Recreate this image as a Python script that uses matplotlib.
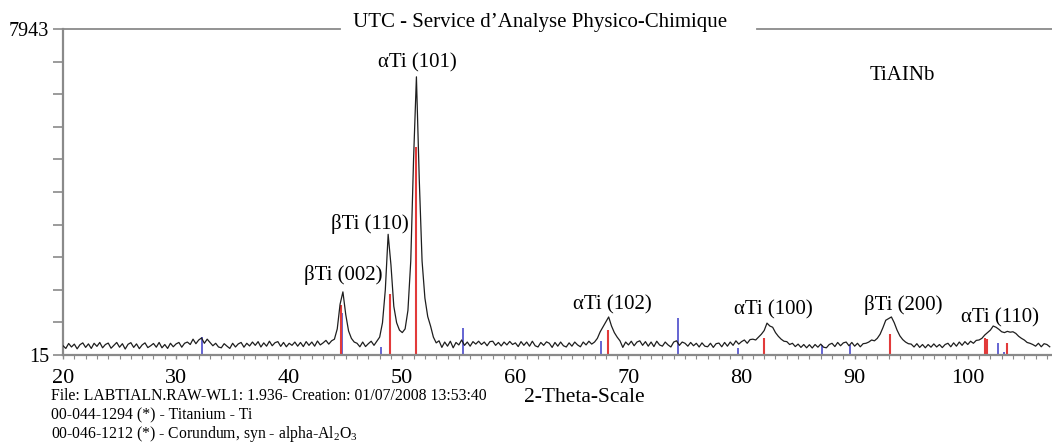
import numpy as np
import matplotlib
matplotlib.use("Agg")
import matplotlib.pyplot as plt
from matplotlib.lines import Line2D

# ---------------- data ----------------
scan_start, scan_step = 20.0, 0.25
intensity = [
    240, 175, 295, 210,  280, 165, 265, 310,  200, 285, 175, 300,  225, 320, 190, 270,   # 20-23
    305, 180, 250, 320,  205, 290, 160, 275,  315, 200, 285, 170,  260, 310, 195, 240,   # 24-27
    295, 205, 320, 190,  270, 175, 300, 215,  285, 320, 205, 300,  330, 270, 400, 290,   # 28-31
    380, 430, 300, 400,  320, 240, 300, 210,  190, 290, 230, 175,  300, 210, 285, 320,   # 32-35
    205, 300, 235, 330,  250, 340, 210, 310,  230, 350, 240, 315,  340, 225, 320, 215,   # 36-39
    300, 250, 330, 230,  320, 220, 340, 250,  330, 230, 355, 260,  310, 370, 280, 360,   # 40-43
    400, 650, 1250, 1550, 1000, 600, 420, 330, 300, 215, 330, 220,  290, 350, 250, 350,  # 44-47
    450, 800, 1600, 2950, 2200, 1200, 800, 620, 560, 650, 1100, 2300,                   # 48-50
    4800, 6780, 4300, 2300, 1400, 950, 720, 450, 310, 360, 200, 330,                     # 51-53
    230, 350, 190, 320,  260, 380, 250, 330,  230, 340, 280, 350,  270, 330, 240, 340,   # 54-57
    350, 250, 320, 235,  330, 260, 345, 270,  310, 220, 340, 250,  330, 230, 350, 240,   # 58-61
    210, 320, 250, 335,  300, 200, 320, 230,  330, 240, 210, 310,  230, 330, 260, 215,   # 62-65
    330, 260, 350, 280,  330, 420, 580, 700,  820, 940, 720, 560,  450, 360, 200, 330,   # 66-69
    260, 350, 240, 330,  360, 250, 340, 230,  330, 220, 350, 260,  230, 330, 260, 210,   # 70-73
    330, 360, 250, 330,  300, 230, 320, 240,  300, 210, 310, 230,  215, 300, 200, 290,   # 74-77
    305, 215, 320, 230,  330, 250, 360, 280,  340, 380, 300, 390,  400, 380, 450, 520,   # 78-81
    610, 790, 720, 690,  560, 470, 400, 350,  340, 270, 300, 220,  280, 200, 270, 190,   # 82-85
    265, 185, 270, 205,  280, 205, 190, 270,  300, 220, 320, 240,  310, 330, 240, 320,   # 86-89
    230, 300, 215, 290,  300, 330, 380, 360,  420, 520, 680, 860,  900, 940, 800, 620,   # 90-93
    480, 390, 330, 290,  280, 210, 290, 200,  270, 190, 270, 205,  285, 210, 270, 195,   # 94-97
    270, 300, 215, 310,  230, 330, 250, 340,  270, 350, 300, 370,  380, 420, 500, 560,   # 98-101
    620, 720, 690, 640,  580, 560, 590, 570,  580, 540, 470, 420,  380, 320, 300, 270,   # 102-105
    230, 300, 215, 290,  270, 215,                                                       # 106-107
]

ti_pos    = [44.6, 48.95, 51.2, 68.2, 82.0, 93.1, 101.55, 101.7, 103.5]
ti_height = [1230, 1500, 5070, 620, 440, 525, 430, 400, 310]

cor_pos    = [32.33, 44.7, 48.15, 55.35, 67.6, 74.4, 79.7, 87.1, 89.6, 102.7, 103.2]
cor_height = [450, 1036, 220, 670, 355, 915, 175, 260, 260, 310, 95]

peak_labels = ["αTi (101)", "βTi (110)", "βTi (002)", "αTi (102)",
               "αTi (100)", "βTi (200)", "αTi (110)"]

y_min, y_max = 15, 7943
x_ticks = [20, 30, 40, 50, 60, 70, 80, 90, 100]

title = "UTC - Service d\u2019Analyse Physico-Chimique"
sample = "TiAINb"
x_label = "2-Theta-Scale"
footer = ["File: LABTIALN.RAW-WL1: 1.936- Creation: 01/07/2008 13:53:40",
          "00-044-1294 (*) - Titanium - Ti",
          "00-046-1212 (*) - Corundum, syn - alpha-Al$_\\mathregular{2}$O$_\\mathregular{3}$"]

# ---------------- plot ----------------
plt.rcParams['font.family'] = ['Liberation Serif', 'DejaVu Serif']
plt.rcParams['mathtext.fontset'] = 'custom'
plt.rcParams['mathtext.rm'] = 'Liberation Serif'

W, H = 1052, 447
fig = plt.figure(figsize=(W / 100, H / 100), dpi=100)
x0, x1, ytop, ybot = 63, 1052, 29, 355
ax = fig.add_axes([x0 / W, 1 - ybot / H, (x1 - x0) / W, (ybot - ytop) / H])

two_theta = scan_start + scan_step * np.arange(len(intensity))

ax.vlines(cor_pos, y_min, cor_height, colors='#6464d2', lw=1.4, zorder=2)
ax.vlines(ti_pos, y_min, ti_height, colors='#e23a3a', lw=1.5, zorder=2)
ax.plot(two_theta, intensity, color='#1e1e1e', lw=0.9, zorder=3)

ax.set_xlim(20, 107.45)
ax.set_ylim(y_min, y_max)

gray = '#8a8a8a'
for s in ['right', 'top']:
    ax.spines[s].set_visible(False)
for s in ['left', 'bottom']:
    ax.spines[s].set_color(gray)
    ax.spines[s].set_linewidth(1.6)

# top frame line broken by the title
for a, b in [(0.0, (340 - x0) / (x1 - x0)), ((757 - x0) / (x1 - x0), 1.0)]:
    ax.add_line(Line2D([a, b], [1, 1], transform=ax.transAxes, color=gray,
                       lw=1.3, clip_on=False))

yt = np.linspace(y_min, y_max, 11)
ax.set_yticks(yt)
ax.set_yticklabels([str(y_min)] + [''] * 9 + [str(y_max)])
ax.tick_params(axis='y', direction='out', length=7, width=1.2, color=gray,
               labelsize=14.5, pad=3)

ax.set_xticks(x_ticks)
ax.set_xticklabels([str(t) for t in x_ticks])
ax.set_xticks(np.arange(20, 108, 1), minor=True)
ax.tick_params(axis='x', which='major', direction='out', length=3, width=1.0,
               color=gray, labelsize=16, pad=7)
ax.tick_params(axis='x', which='minor', direction='out', length=3, width=0.8,
               color=gray)

def px(xp, yp):
    return xp / W, 1 - yp / H

fig.text(*px(540, 27), title, ha='center', va='baseline', fontsize=15)

label_px = [(417, 63), (370, 224), (343, 275), (612, 305),
            (773, 309.5), (903, 305), (1000, 317.5)]
for lab, (lx, ly) in zip(peak_labels, label_px):
    fig.text(*px(lx, ly), lab, ha='center', va='center', fontsize=15)

fig.text(*px(902, 76), sample, ha='center', va='center', fontsize=15)
fig.text(*px(584, 398), x_label, ha='center', va='center', fontsize=15.5)

for i, line in enumerate(footer):
    fig.text(*px(51, 396.5 + 19 * i), line, ha='left', va='center', fontsize=11.3)

fig.savefig('out.png', dpi=100, facecolor='white')
